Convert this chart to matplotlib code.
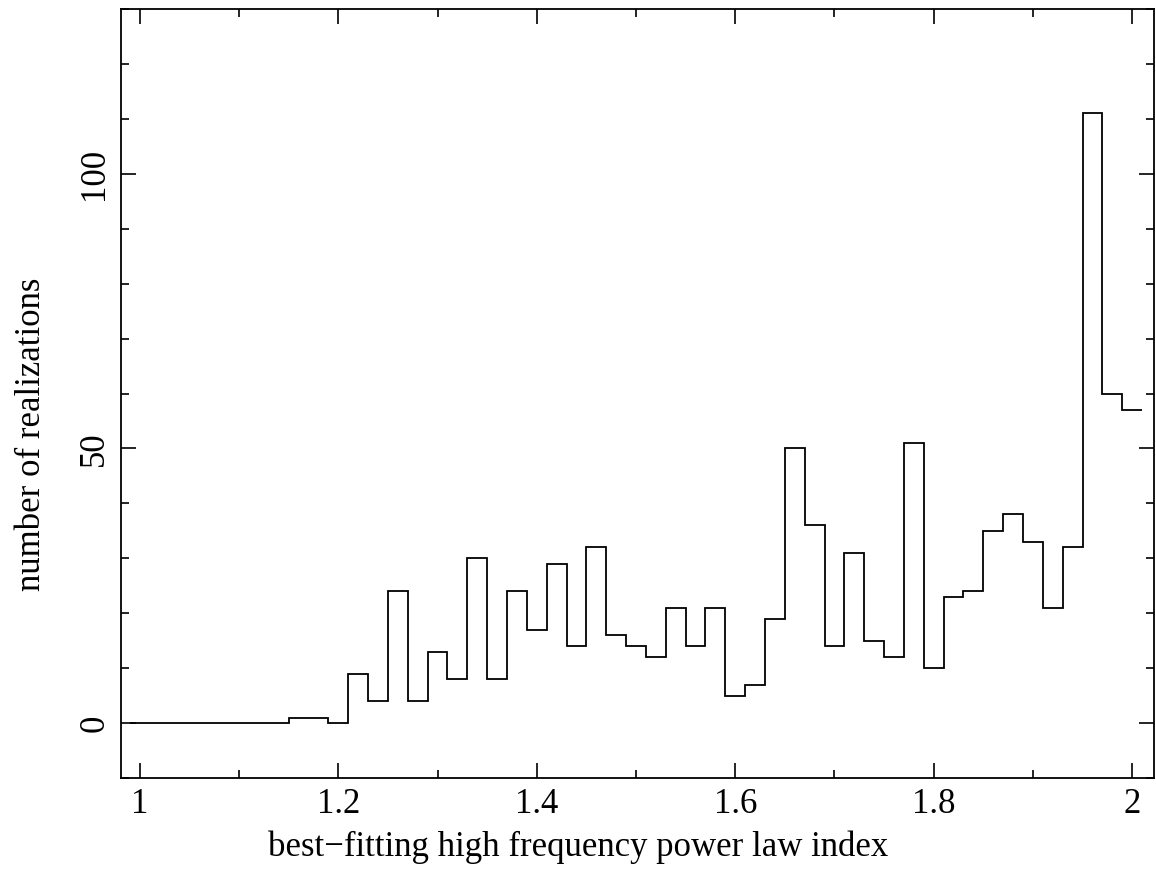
import numpy as np
import matplotlib
matplotlib.use("Agg")
import matplotlib.pyplot as plt
from matplotlib.ticker import MultipleLocator

# histogram bin centres (width 0.02) and counts
bin_centers = [1.00, 1.02, 1.04, 1.06, 1.08, 1.10, 1.12, 1.14, 1.16, 1.18,
               1.20, 1.22, 1.24, 1.26, 1.28, 1.30, 1.32, 1.34, 1.36, 1.38,
               1.40, 1.42, 1.44, 1.46, 1.48, 1.50, 1.52, 1.54, 1.56, 1.58,
               1.60, 1.62, 1.64, 1.66, 1.68, 1.70, 1.72, 1.74, 1.76, 1.78,
               1.80, 1.82, 1.84, 1.86, 1.88, 1.90, 1.92, 1.94, 1.96, 1.98,
               2.00]
counts = [0, 0, 0, 0, 0, 0, 0, 0, 1, 1,
          0, 9, 4, 24, 4, 13, 8, 30, 8, 24,
          17, 29, 14, 32, 16, 14, 12, 21, 14, 21,
          5, 7, 19, 50, 36, 14, 31, 15, 12, 51,
          10, 23, 24, 35, 38, 33, 21, 32, 111, 60,
          57]
bin_width = 0.02

plt.rcParams["font.family"] = ["Liberation Serif", "DejaVu Serif"]

fig = plt.figure(figsize=(11.56, 8.69), dpi=100)
ax = fig.add_axes([121 / 1156, 1 - 778 / 869, (1154 - 121) / 1156, (778 - 9) / 869])

centers = np.array(bin_centers)
edges = np.append(centers - bin_width / 2, centers[-1] + bin_width / 2)
ax.stairs(counts, edges, color="black", linewidth=1.3, baseline=None)

ax.set_xlim(0.981, 2.022)
ax.set_ylim(-10, 130)

ax.xaxis.set_major_locator(MultipleLocator(0.2))
ax.xaxis.set_minor_locator(MultipleLocator(0.1))
ax.yaxis.set_major_locator(MultipleLocator(50))
ax.yaxis.set_minor_locator(MultipleLocator(10))
ax.xaxis.set_major_formatter(lambda v, p: f"{v:g}")

ax.tick_params(which="both", direction="in", top=True, right=True, width=1.2, labelsize=25)
ax.tick_params(which="major", length=11, pad=7)
ax.tick_params(which="minor", length=6)
for lab in ax.get_yticklabels():
    lab.set_rotation(90)
    lab.set_va("center")
for s in ax.spines.values():
    s.set_linewidth(1.3)

# axis titles sit at the middle of the figure, not of the axes
ax.set_xlabel("best\u2212fitting high frequency power law index", fontsize=25, labelpad=7)
ax.set_ylabel("number of realizations", fontsize=25, labelpad=22)
ax.xaxis.label.set_x(0.4424)
ax.yaxis.label.set_y(0.447)

fig.savefig("out.png", dpi=100)
